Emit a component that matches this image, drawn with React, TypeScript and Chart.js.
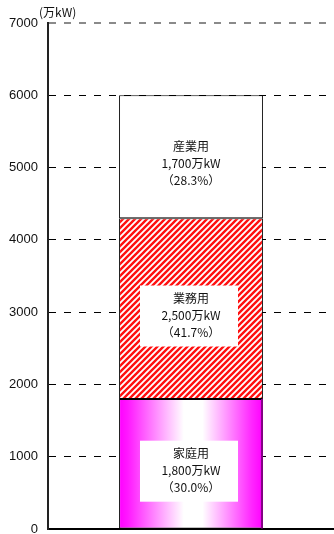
import { useEffect, useRef } from 'react';
import { Chart, registerables } from 'chart.js';

Chart.register(...registerables);

// Electricity demand by sector (unit: 万kW)
const categories = [''];
const segmentNames = ['家庭用', '業務用', '産業用'];
const segmentValues = [1800, 2500, 1700];
const yTickValues = [0, 1000, 2000, 3000, 4000, 5000, 6000, 7000];
const unitLabel = '(万kW)';

const BAR_PCT = 0.503;
const LABEL_FONT = '12px "Noto Sans CJK JP", "Noto Sans", sans-serif';

function makeHatch(): CanvasPattern | string {
  const tile = document.createElement('canvas');
  const s = 6;
  tile.width = s;
  tile.height = s;
  const c = tile.getContext('2d');
  if (!c) return '#ff0000';
  c.fillStyle = '#ffffff';
  c.fillRect(0, 0, s, s);
  c.strokeStyle = '#ff1010';
  c.lineWidth = 2.4;
  c.beginPath();
  for (const o of [-s, 0, s]) {
    c.moveTo(o - 1, s + 1);
    c.lineTo(o + s + 1, -1);
  }
  c.stroke();
  const p = c.createPattern(tile, 'repeat');
  return p || '#ff0000';
}

function formatValue(v: number): string {
  return v.toLocaleString('en-US') + '万kW';
}

export default function App() {
  const ref = useRef<HTMLCanvasElement | null>(null);

  useEffect(() => {
    const canvas = ref.current;
    if (!canvas) return;
    const total = segmentValues.reduce((a, b) => a + b, 0);
    const hatch = makeHatch();

    const magentaFill = (ctx: any) => {
      const chart = ctx.chart;
      const xs = chart.scales?.x;
      if (!chart.chartArea || !xs) return '#ff00ff';
      const center = xs.getPixelForValue(0);
      const half = (xs.width * BAR_PCT) / 2;
      const g = chart.ctx.createLinearGradient(center - half, 0, center + half, 0);
      g.addColorStop(0, '#ff00ff');
      g.addColorStop(0.06, '#ff18ff');
      g.addColorStop(0.45, '#ffffff');
      g.addColorStop(0.58, '#ffffff');
      g.addColorStop(0.92, '#ff28ff');
      g.addColorStop(1, '#ff00ff');
      return g;
    };

    const fills: any[] = [magentaFill, hatch, '#ffffff'];

    const labelPlugin = {
      id: 'segmentLabels',
      afterDatasetsDraw(chart: any) {
        const c = chart.ctx;
        c.save();
        // darker right edge on the household segment
        const first = chart.getDatasetMeta(0).data[0];
        if (first) {
          const right = first.x + first.width / 2;
          c.strokeStyle = '#8a008a';
          c.lineWidth = 2;
          c.beginPath();
          c.moveTo(right - 1, first.y);
          c.lineTo(right - 1, first.base);
          c.stroke();
        }
        chart.data.datasets.forEach((ds: any, i: number) => {
          const el = chart.getDatasetMeta(i).data[0];
          if (!el) return;
          const v = ds.data[0] as number;
          const cx = el.x;
          const cy = (el.y + el.base) / 2 + 7;
          if (i < 2) {
            c.fillStyle = '#ffffff';
            c.fillRect(cx - 51, cy - 30, 98, 61);
          }
          c.fillStyle = '#111111';
          c.font = LABEL_FONT;
          c.textAlign = 'center';
          c.textBaseline = 'middle';
          const pct = ((v / total) * 100).toFixed(1);
          c.fillText(ds.label, cx, cy - 17);
          c.fillText(formatValue(v), cx, cy);
          c.fillText('（' + pct + '%）', cx, cy + 17);
        });
        // unit caption above the value axis
        c.font = LABEL_FONT;
        c.textAlign = 'left';
        c.textBaseline = 'middle';
        c.fillStyle = '#111111';
        c.fillText(unitLabel, 39, 12);
        c.restore();
      },
    };

    const chart = new Chart(canvas, {
      type: 'bar',
      data: {
        labels: categories,
        datasets: segmentNames.map((name, i) => ({
          label: name,
          data: [segmentValues[i]],
          backgroundColor: fills[i],
          borderColor: '#000000',
          borderWidth: 1,
          borderSkipped: false,
          barPercentage: BAR_PCT,
          categoryPercentage: 1,
        })),
      },
      options: {
        responsive: false,
        animation: false,
        devicePixelRatio: 1,
        layout: { padding: { top: 23, left: 0, right: 0, bottom: 0 } },
        plugins: {
          legend: { display: false },
          tooltip: { enabled: false },
        },
        scales: {
          x: {
            stacked: true,
            grid: { display: false },
            ticks: { display: false },
            border: { display: true, color: '#000000', width: 2 },
            afterFit: (scale: any) => {
              scale.height = 5;
            },
          },
          y: {
            stacked: true,
            min: 0,
            max: 7000,
            afterBuildTicks: (scale: any) => {
              scale.ticks = yTickValues.map((v) => ({ value: v }));
            },
            ticks: {
              color: '#111111',
              padding: 10,
              font: { family: '"Liberation Sans", Arial, sans-serif', size: 13 },
              callback: (value: any) => String(value),
            },
            grid: {
              drawTicks: false,
              color: (ctx: any) => (ctx.tick && ctx.tick.value === 7000 ? '#8a8a8a' : '#000000'),
              lineWidth: (ctx: any) => (ctx.tick && ctx.tick.value === 7000 ? 2 : 1),
            },
            border: { display: true, color: '#222222', width: 2, dash: [7, 8] },
            afterFit: (scale: any) => {
              scale.width = 48;
              scale.paddingTop = 0;
              scale.paddingBottom = 0;
            },
          },
        },
      },
      plugins: [labelPlugin],
    });

    return () => chart.destroy();
  }, []);

  return (
    <div style={{ position: 'fixed', left: 0, top: 0, width: 334, height: 534, background: '#ffffff' }}>
      <canvas ref={ref} width={334} height={534} style={{ width: 334, height: 534, display: 'block' }} />
    </div>
  );
}
